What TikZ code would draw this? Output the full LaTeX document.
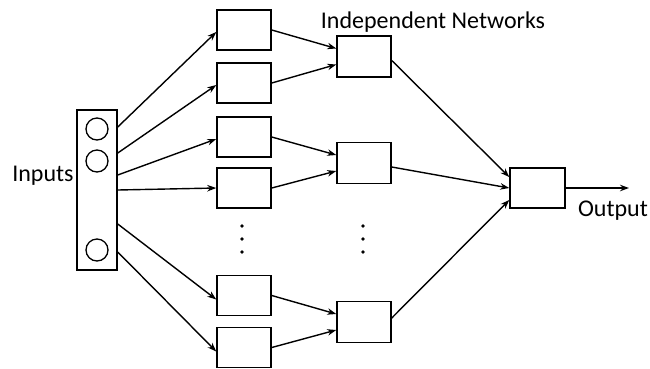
\documentclass[tikz,border=0pt]{standalone}
\usepackage{fontspec}
\setmainfont{Carlito}
\usetikzlibrary{arrows.meta}
\begin{document}
\begin{tikzpicture}[x=1pt,y=-1pt,
  box/.style={draw,line width=1.5pt,minimum width=54pt,minimum height=40pt,inner sep=0pt},
  arr/.style={line width=1.4pt,-{Stealth[length=9pt,width=6.5pt]}},
  lbl/.style={font=\fontsize{24}{28}\selectfont,inner sep=0pt},
  dot/.style={circle,fill,inner sep=0pt,minimum size=3.8pt}]
\useasboundingbox (0,0) rectangle (650,368);
\node[box,minimum width=40pt,minimum height=160pt] (in) at (97,190) {};
\node[draw,line width=1.3pt,circle,minimum size=22pt,inner sep=0pt] (c1) at (97,129) {};
\node[draw,line width=1.3pt,circle,minimum size=22pt,inner sep=0pt] (c2) at (97,161) {};
\node[draw,line width=1.3pt,circle,minimum size=22pt,inner sep=0pt] (c3) at (97,250) {};
\node[lbl] (tin) at (43,176) {Inputs};
\node[box] (b1) at (244,30) {};
\node[box] (b2) at (244,83) {};
\node[box] (b3) at (244,137) {};
\node[box] (b4) at (244,188) {};
\node[box] (b5) at (244,295.5) {};
\node[box] (b6) at (244,347.5) {};
\node[box,minimum height=41pt] (m1) at (364,56.5) {};
\node[box,minimum height=41pt] (m2) at (364,163) {};
\node[box,minimum height=41pt] (m3) at (364,322) {};
\node[box,minimum width=55pt] (o) at (537.5,188) {};
\coordinate (out) at (629,188);
\node[lbl] (tnet) at (433,22) {Independent Networks};
\node[lbl] (tout) at (613,211) {Output};
\node[dot] (d1) at (242,226) {};
\node[dot] (d2) at (242,239) {};
\node[dot] (d3) at (242,252) {};
\node[dot] (d4) at (363,226) {};
\node[dot] (d5) at (363,239) {};
\node[dot] (d6) at (363,252) {};
\draw[arr] ([yshift=63pt]in.east) -- ([yshift=-2pt]b1.west);
\draw[arr] ([yshift=37pt]in.east) -- ([yshift=-2pt]b2.west);
\draw[arr] ([yshift=15pt]in.east) -- ([yshift=-2pt]b3.west);
\draw[arr] ([yshift=0pt]in.east) -- (b4.west);
\draw[arr] ([yshift=-34pt]in.east) -- ([yshift=-4pt]b5.west);
\draw[arr] ([yshift=-62pt]in.east) -- ([yshift=-4pt]b6.west);
\draw[arr] (b1.east) -- ([yshift=8pt]m1.west);
\draw[arr] (b2.east) -- ([yshift=-8pt]m1.west);
\draw[arr] (b3.east) -- ([yshift=8pt]m2.west);
\draw[arr] (b4.east) -- ([yshift=-8pt]m2.west);
\draw[arr] (b5.east) -- ([yshift=8pt]m3.west);
\draw[arr] (b6.east) -- ([yshift=-8pt]m3.west);
\draw[arr] ([yshift=-4pt]m1.east) -- ([yshift=11pt]o.west);
\draw[arr] ([yshift=-4pt]m2.east) -- (o.west);
\draw[arr] ([yshift=4pt]m3.east) -- ([yshift=-12pt]o.west);
\draw[arr] (o.east) -- (out);
\end{tikzpicture}
\end{document}
